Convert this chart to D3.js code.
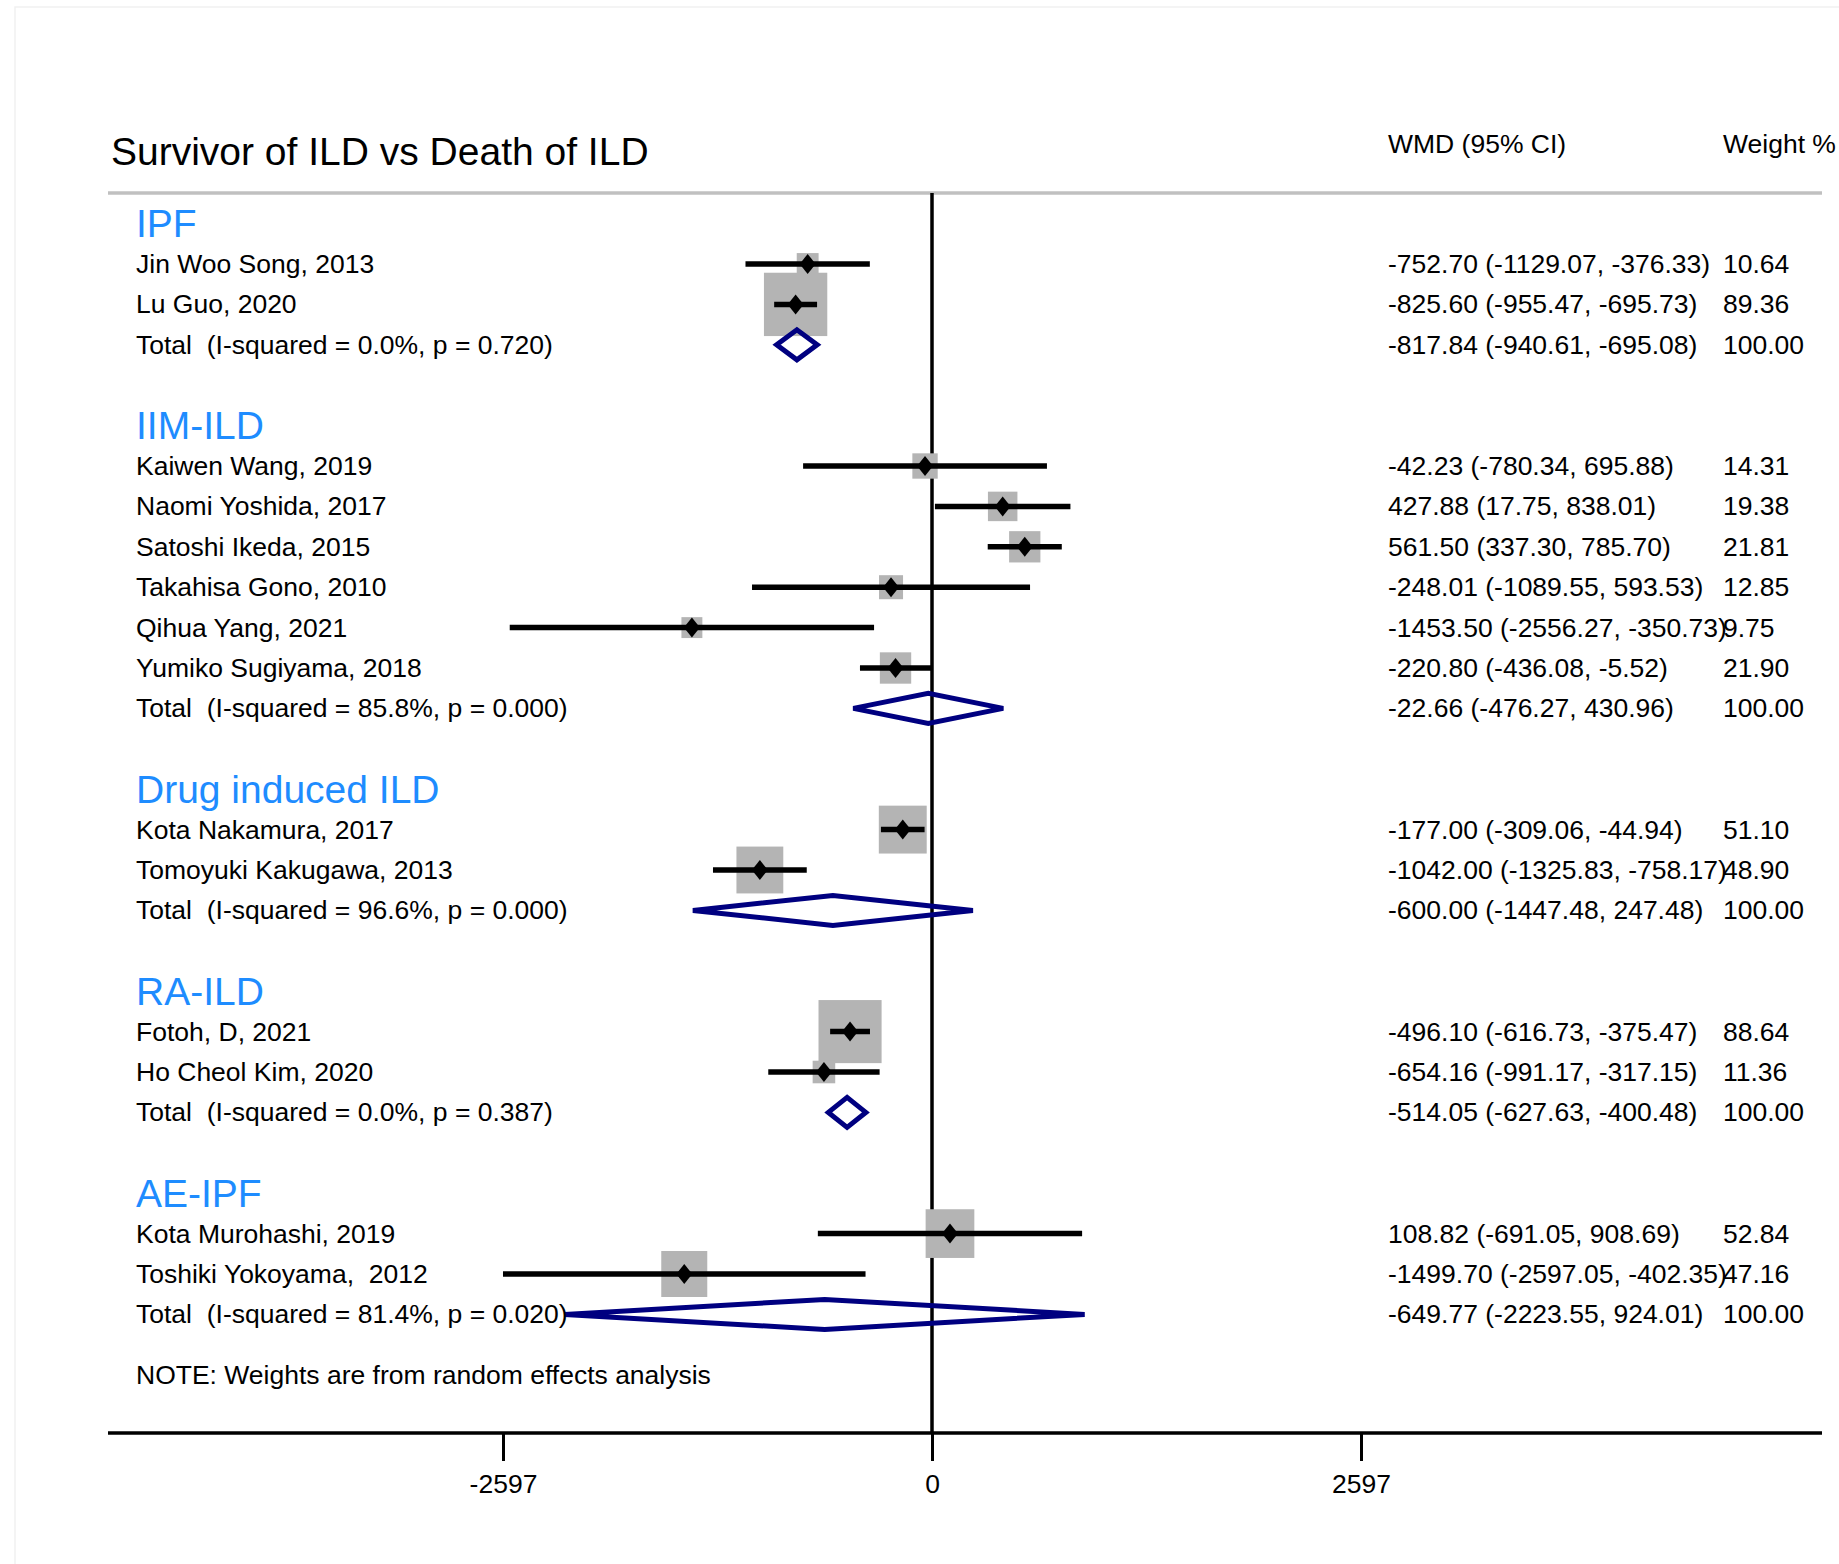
<!DOCTYPE html>
<html>
<head>
<meta charset="utf-8">
<script src="https://cdn.jsdelivr.net/npm/d3@7"></script>
<style>
  body { margin: 0; background: #fff; }
  text { font-family: "Liberation Sans", Arial, sans-serif; white-space: pre; }
</style>
</head>
<body>
<div id="chart"></div>
<script>
var width = 1839;
var height = 1564;

// group headers
var groupNames = ["IPF", "IIM-ILD", "Drug induced ILD", "RA-ILD", "AE-IPF"];

// studies, one entry each
var studyNames = [
  "Jin Woo Song, 2013", "Lu Guo, 2020",
  "Kaiwen Wang, 2019", "Naomi Yoshida, 2017", "Satoshi Ikeda, 2015",
  "Takahisa Gono, 2010", "Qihua Yang, 2021", "Yumiko Sugiyama, 2018",
  "Kota Nakamura, 2017", "Tomoyuki Kakugawa, 2013",
  "Fotoh, D, 2021", "Ho Cheol Kim, 2020",
  "Kota Murohashi, 2019", "Toshiki Yokoyama,  2012"
];
var studyGroup = [0, 0, 1, 1, 1, 1, 1, 1, 2, 2, 3, 3, 4, 4];
var studyEst = [-752.70, -825.60, -42.23, 427.88, 561.50, -248.01, -1453.50, -220.80, -177.00, -1042.00, -496.10, -654.16, 108.82, -1499.70];
var studyLow = [-1129.07, -955.47, -780.34, 17.75, 337.30, -1089.55, -2556.27, -436.08, -309.06, -1325.83, -616.73, -991.17, -691.05, -2597.05];
var studyHigh = [-376.33, -695.73, 695.88, 838.01, 785.70, 593.53, -350.73, -5.52, -44.94, -758.17, -375.47, -317.15, 908.69, -402.35];
var studyWeight = [10.64, 89.36, 14.31, 19.38, 21.81, 12.85, 9.75, 21.90, 51.10, 48.90, 88.64, 11.36, 52.84, 47.16];

// subgroup totals
var totalI2 = ["0.0", "85.8", "96.6", "0.0", "81.4"];
var totalP = ["0.720", "0.000", "0.000", "0.387", "0.020"];
var totalEst = [-817.84, -22.66, -600.00, -514.05, -649.77];
var totalLow = [-940.61, -476.27, -1447.48, -627.63, -2223.55];
var totalHigh = [-695.08, 430.96, 247.48, -400.48, 924.01];

var tickValues = [-2597, 0, 2597];

var svg = d3.select("#chart").append("svg")
  .attr("width", width)
  .attr("height", height);

svg.append("rect").attr("width", width).attr("height", height).attr("fill", "#fff");

// faint frame at the edge of the picture
svg.append("path")
  .attr("d", "M15," + height + " V7 H" + width)
  .attr("fill", "none")
  .attr("stroke", "#f1f1f1")
  .attr("stroke-width", 1.5);

// build the rows: header, studies, total, blank
var rows = [];
groupNames.forEach(function(g, gi) {
  rows.push({ type: "header", label: g });
  studyNames.forEach(function(n, i) {
    if (studyGroup[i] !== gi) return;
    rows.push({ type: "study", label: n, est: studyEst[i], lo: studyLow[i], hi: studyHigh[i], w: studyWeight[i] });
  });
  rows.push({
    type: "total",
    label: "Total  (I-squared = " + totalI2[gi] + "%, p = " + totalP[gi] + ")",
    est: totalEst[gi], lo: totalLow[gi], hi: totalHigh[gi], w: 100
  });
  rows.push({ type: "blank" });
});
rows.forEach(function(r, i) { r.idx = i; });

var x = d3.scaleLinear().domain([-2597, 2597]).range([503, 1361]);
var y = d3.scaleLinear().domain([0, 27]).range([223.6, 1314.4]);
var boxSize = d3.scaleSqrt().domain([0, 100]).range([0, 67]);

var left = 108, right = 1822;
var axisY = 1433;

// title and column headers
svg.append("text").attr("x", 111).attr("y", 165)
  .attr("font-size", 39).attr("fill", "#000")
  .text("Survivor of ILD vs Death of ILD");
svg.append("text").attr("x", 1388).attr("y", 153)
  .attr("font-size", 26.5).text("WMD (95% CI)");
svg.append("text").attr("x", 1723).attr("y", 153)
  .attr("font-size", 26.5).text("Weight %");

svg.append("line")
  .attr("x1", left).attr("x2", right).attr("y1", 193).attr("y2", 193)
  .attr("stroke", "#c0c0c0").attr("stroke-width", 3.5);

// zero line
svg.append("line")
  .attr("x1", x(0)).attr("x2", x(0)).attr("y1", 193).attr("y2", axisY)
  .attr("stroke", "#000").attr("stroke-width", 3.5);

var studies = rows.filter(function(r) { return r.type === "study"; });
var totals = rows.filter(function(r) { return r.type === "total"; });

// weight boxes
svg.selectAll(".box").data(studies).enter().append("rect")
  .attr("class", "box")
  .attr("x", function(d) { return x(d.est) - boxSize(d.w) / 2; })
  .attr("y", function(d) { return y(d.idx) - boxSize(d.w) / 2; })
  .attr("width", function(d) { return boxSize(d.w); })
  .attr("height", function(d) { return boxSize(d.w); })
  .attr("fill", "#b4b4b4");

// confidence intervals
svg.selectAll(".ci").data(studies).enter().append("line")
  .attr("class", "ci")
  .attr("x1", function(d) { return x(d.lo); })
  .attr("x2", function(d) { return x(d.hi); })
  .attr("y1", function(d) { return y(d.idx); })
  .attr("y2", function(d) { return y(d.idx); })
  .attr("stroke", "#000").attr("stroke-width", 5.5);

// point estimates
svg.selectAll(".pt").data(studies).enter().append("path")
  .attr("class", "pt")
  .attr("d", function(d) {
    var cx = x(d.est), cy = y(d.idx);
    return "M" + (cx - 8) + "," + cy + " L" + cx + "," + (cy - 10) +
      " L" + (cx + 8) + "," + cy + " L" + cx + "," + (cy + 10) + " Z";
  })
  .attr("fill", "#000");

// pooled diamonds
svg.selectAll(".pool").data(totals).enter().append("path")
  .attr("class", "pool")
  .attr("d", function(d) {
    var cy = y(d.idx);
    return "M" + x(d.lo) + "," + cy + " L" + x(d.est) + "," + (cy - 15) +
      " L" + x(d.hi) + "," + cy + " L" + x(d.est) + "," + (cy + 15) + " Z";
  })
  .attr("fill", "none")
  .attr("stroke", "#000080")
  .attr("stroke-width", 5);

// left labels
svg.selectAll(".lab").data(rows.filter(function(r) { return r.type !== "blank"; }))
  .enter().append("text")
  .attr("class", "lab")
  .attr("x", 136)
  .attr("y", function(d) { return y(d.idx) + (d.type === "header" ? 13.5 : 9); })
  .attr("font-size", function(d) { return d.type === "header" ? 39 : 26.5; })
  .attr("fill", function(d) { return d.type === "header" ? "#1e8cff" : "#000"; })
  .text(function(d) { return d.label; });

// right columns
var valueRows = rows.filter(function(r) { return r.type === "study" || r.type === "total"; });
svg.selectAll(".val").data(valueRows).enter().append("text")
  .attr("class", "val")
  .attr("x", 1388)
  .attr("y", function(d) { return y(d.idx) + 9; })
  .attr("font-size", 26.5)
  .text(function(d) {
    return d.est.toFixed(2) + " (" + d.lo.toFixed(2) + ", " + d.hi.toFixed(2) + ")";
  });
svg.selectAll(".wt").data(valueRows).enter().append("text")
  .attr("class", "wt")
  .attr("x", 1723)
  .attr("y", function(d) { return y(d.idx) + 9; })
  .attr("font-size", 26.5)
  .text(function(d) { return d.w.toFixed(2); });

svg.append("text").attr("x", 136).attr("y", y(28.5) + 9)
  .attr("font-size", 26.5)
  .text("NOTE: Weights are from random effects analysis");

// x axis
svg.append("line")
  .attr("x1", left).attr("x2", right).attr("y1", axisY).attr("y2", axisY)
  .attr("stroke", "#000").attr("stroke-width", 3.5);

var axis = d3.axisBottom(x).tickValues(tickValues).tickSize(28).tickPadding(13)
  .tickFormat(function(d) { return String(d); });
var gx = svg.append("g").attr("transform", "translate(0," + axisY + ")").call(axis);
gx.select(".domain").remove();
gx.selectAll(".tick line").attr("stroke", "#000").attr("stroke-width", 3);
gx.selectAll(".tick text")
  .attr("font-size", 26.5)
  .attr("font-family", "Liberation Sans, Arial, sans-serif")
  .attr("fill", "#000");
</script>
</body>
</html>
